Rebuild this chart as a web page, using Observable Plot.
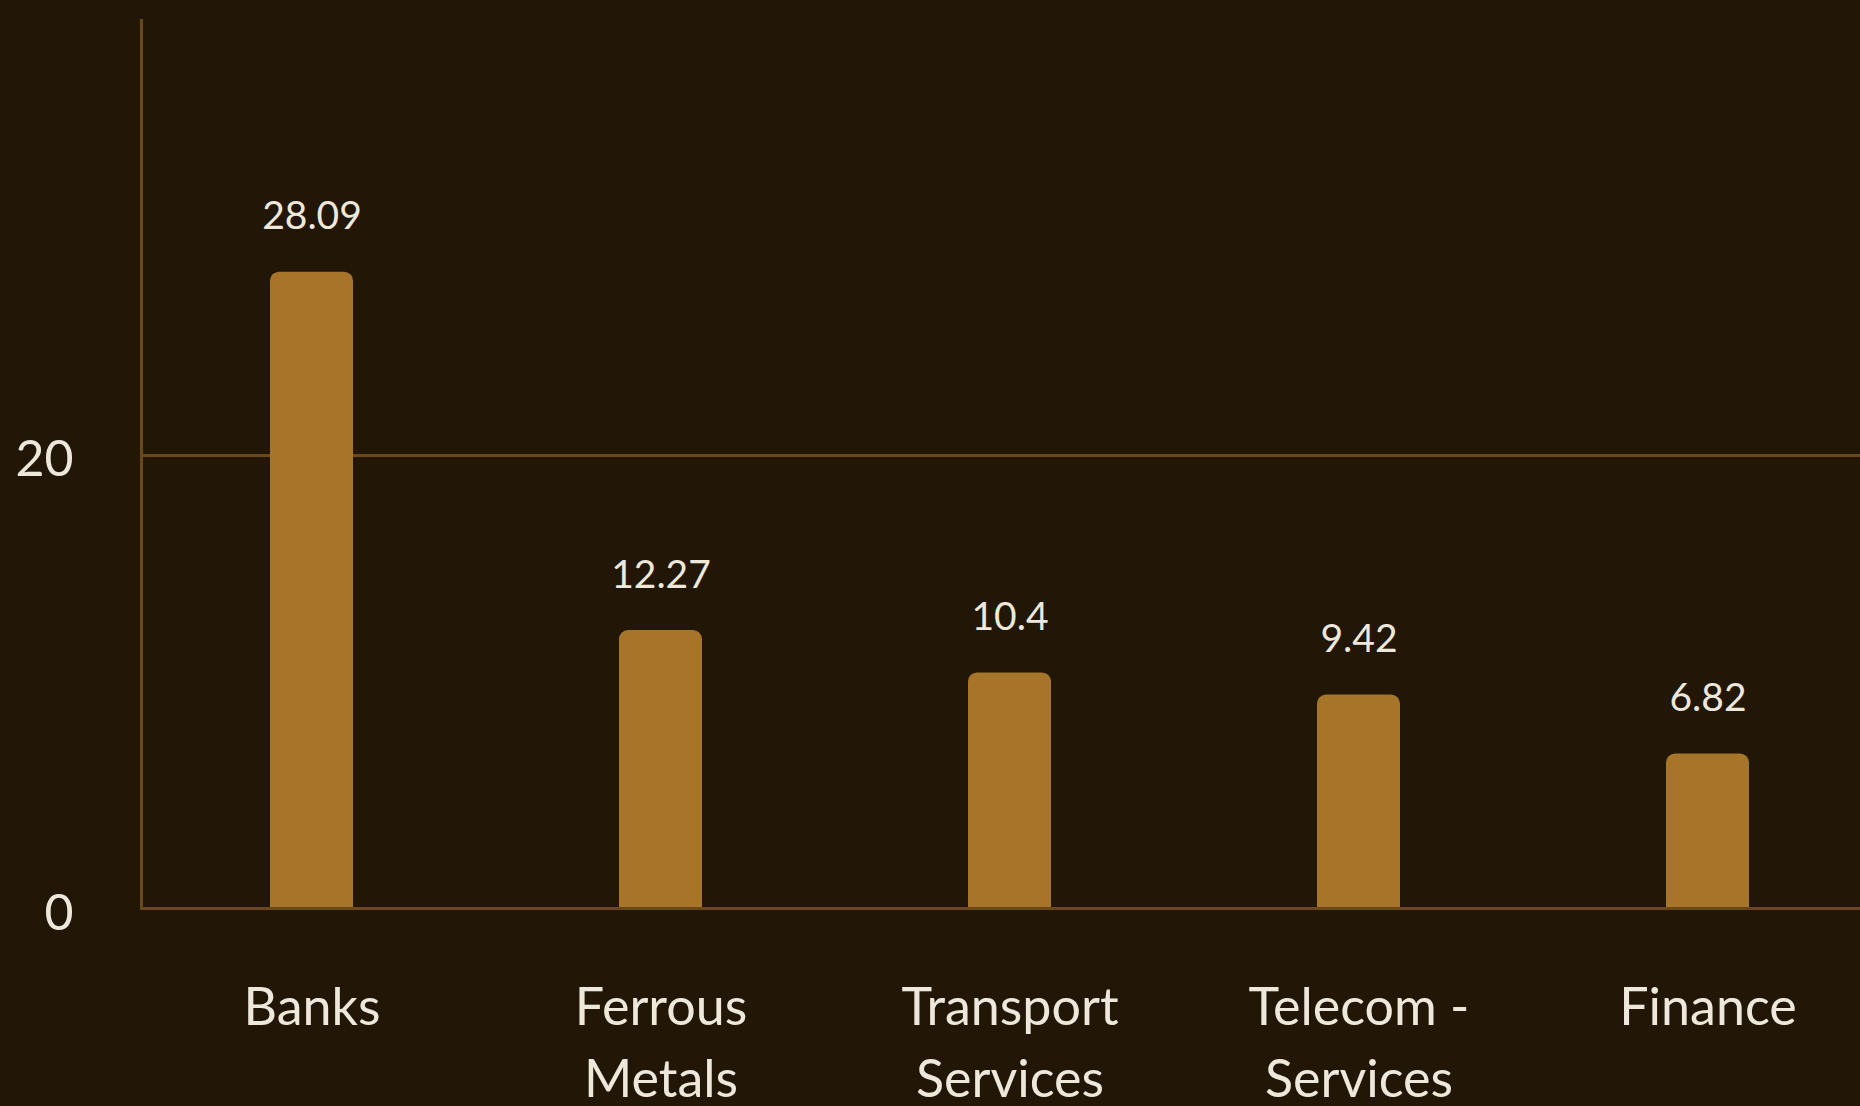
<!DOCTYPE html>
<html>
<head>
<meta charset="utf-8">
<script src="https://cdn.jsdelivr.net/npm/d3@7"></script>
<script src="https://cdn.jsdelivr.net/npm/@observablehq/plot@0.6"></script>
<style>
  html, body { margin: 0; padding: 0; background: #221606; }
  #chart svg { display: block; }
</style>
</head>
<body>
<div id="chart"></div>
<script>
const categories = ["Banks", "Ferrous Metals", "Transport Services", "Telecom - Services", "Finance"];
const values = [28.09, 12.27, 10.4, 9.42, 6.82];
const tickLabels = ["Banks", "Ferrous\nMetals", "Transport\nServices", "Telecom -\nServices", "Finance"];
const yTicks = [0, 20];

const data = categories.map((c, i) => ({category: c, value: values[i]}));
const labelOf = new Map(categories.map((c, i) => [c, tickLabels[i]]));

const barColor = "#A7752A";
const lineColor = "#6A4914";
const textColor = "#EEE8DC";

const chart = Plot.plot({
  width: 1860,
  height: 1106,
  marginTop: 20,
  marginBottom: 198,
  marginLeft: 141,
  marginRight: 0,
  style: {background: "#221606", color: textColor, fontFamily: "Lato, sans-serif"},
  x: {domain: categories, range: [141, 1878], paddingInner: 0.763, paddingOuter: 0.365, label: null},
  y: {domain: [0, 39.2], label: null},
  marks: [
    Plot.frame({anchor: "left", stroke: lineColor, strokeWidth: 3}),
    Plot.ruleY(yTicks, {stroke: lineColor, strokeWidth: 3}),
    Plot.barY(data, {x: "category", y: "value", fill: barColor, rx: 9}),
    Plot.barY(data, {x: "category", y: d => d.value / 2, fill: barColor}),
    Plot.ruleY([0], {stroke: lineColor, strokeWidth: 3}),
    Plot.text(data, {x: "category", y: "value", text: d => String(d.value), lineAnchor: "bottom", dy: -43, fill: textColor, fontSize: 39}),
    Plot.axisY({ticks: yTicks, tickSize: 0, tickPadding: 68, fontSize: 50, dy: 5, fill: textColor, label: null}),
    Plot.axisX({tickSize: 0, tickPadding: 66, fontSize: 52, lineHeight: 1.38, tickFormat: d => labelOf.get(d), fill: textColor, label: null})
  ]
});
document.getElementById("chart").append(chart);
</script>
</body>
</html>
